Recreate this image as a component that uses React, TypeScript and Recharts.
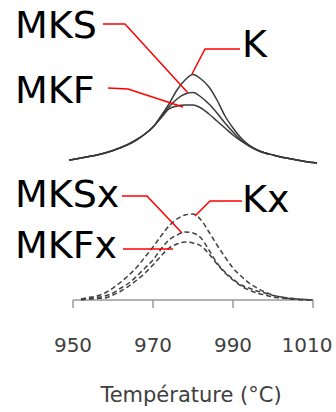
import React from 'react';
import { LineChart, Line, XAxis, YAxis, ReferenceLine } from 'recharts';

// Temperatures (°C) for the solid curves (upper panel)
const topTemps = [
  949, 950, 952, 954, 956, 958, 960, 962, 964, 966, 968, 970, 972, 974, 976, 978, 980,
  982, 984, 986, 988, 990, 992, 994, 996, 998, 1000, 1002, 1004, 1006, 1008, 1010, 1011,
];
const kValues = [
  0.1, 0.105, 0.12, 0.135, 0.15, 0.17, 0.195, 0.225, 0.26, 0.305, 0.36, 0.43, 0.54, 0.66, 0.8, 0.9, 0.955,
  0.91, 0.83, 0.7, 0.54, 0.42, 0.32, 0.25, 0.2, 0.17, 0.15, 0.13, 0.115, 0.1, 0.085, 0.075, 0.07,
];
const mksValues = [
  0.1, 0.105, 0.12, 0.135, 0.15, 0.17, 0.195, 0.225, 0.26, 0.305, 0.36, 0.43, 0.53, 0.63, 0.71, 0.76, 0.775,
  0.73, 0.66, 0.57, 0.47, 0.38, 0.3, 0.245, 0.2, 0.17, 0.15, 0.13, 0.115, 0.1, 0.085, 0.075, 0.07,
];
const mkfValues = [
  0.1, 0.105, 0.12, 0.135, 0.15, 0.17, 0.195, 0.225, 0.26, 0.305, 0.36, 0.43, 0.52, 0.61, 0.64, 0.65, 0.65,
  0.62, 0.56, 0.49, 0.42, 0.35, 0.29, 0.24, 0.2, 0.17, 0.15, 0.13, 0.115, 0.1, 0.085, 0.075, 0.07,
];

// Temperatures (°C) for the dashed curves (lower panel)
const botTemps = [
  952, 954, 956, 958, 960, 962, 964, 966, 968, 970, 972, 974, 976, 978, 980,
  982, 984, 986, 988, 990, 992, 994, 996, 998, 1000, 1002, 1004, 1006, 1008, 1010,
];
const kxValues = [
  0.01, 0.025, 0.04, 0.07, 0.12, 0.18, 0.25, 0.33, 0.43, 0.53, 0.64, 0.74, 0.81, 0.85, 0.86,
  0.8, 0.68, 0.55, 0.43, 0.32, 0.24, 0.17, 0.12, 0.08, 0.05, 0.03, 0.02, 0.01, 0.005, 0,
];
const mksxValues = [
  0.005, 0.015, 0.025, 0.04, 0.07, 0.12, 0.17, 0.24, 0.32, 0.4, 0.51, 0.6, 0.65, 0.68, 0.67,
  0.62, 0.5, 0.37, 0.28, 0.21, 0.15, 0.12, 0.09, 0.07, 0.045, 0.03, 0.015, 0.01, 0.005, 0,
];
const mkfxValues = [
  0, 0.01, 0.015, 0.02, 0.05, 0.09, 0.14, 0.2, 0.27, 0.35, 0.44, 0.52, 0.56, 0.58, 0.57,
  0.54, 0.46, 0.36, 0.27, 0.2, 0.14, 0.1, 0.07, 0.05, 0.03, 0.02, 0.01, 0.005, 0, 0,
];

const xTicks = [950, 970, 990, 1010];

const topRows = topTemps.map((t, i) => ({ t, K: kValues[i], MKS: mksValues[i], MKF: mkfValues[i] }));
const botRows = botTemps.map((t, i) => ({ t, Kx: kxValues[i], MKSx: mksxValues[i], MKFx: mkfxValues[i] }));

const FONT = '"DejaVu Sans", sans-serif';

const TempTick = (props: any) => {
  const { x, y, payload } = props;
  // last label is pushed in so it stays inside the frame
  const dx = payload.value === 1010 ? -6 : 0;
  return (
    <text x={x + dx} y={y + 42} textAnchor="middle" fontSize={20} fontFamily={FONT} fill="#404040">
      {payload.value}
    </text>
  );
};

// callout labels with red leader lines
const callouts = [
  { text: 'MKS', tx: 15, ty: 38, pts: '103,24 125,24 188,93' },
  { text: 'K', tx: 242, ty: 57, pts: '240,49 205,49 192,74' },
  { text: 'MKF', tx: 15, ty: 103, pts: '108,88 128,89 183,107' },
  { text: 'MKSx', tx: 15, ty: 207, pts: '122,196 147,196 182,233' },
  { text: 'Kx', tx: 242, ty: 212, pts: '242,201 210,201 195,216' },
  { text: 'MKFx', tx: 15, ty: 258, pts: '123,249 173,249' },
];

export default function App() {
  return (
    <div style={{ position: 'absolute', left: 0, top: 0, width: 336, height: 412, background: '#fff' }}>
      <LineChart width={336} height={412} margin={{ top: 40, right: 19, bottom: 0, left: 69 }}>
        <XAxis
          type="number"
          dataKey="t"
          domain={[949, 1011]}
          ticks={xTicks}
          axisLine={false}
          tickLine={{ stroke: '#9a9a9a', strokeWidth: 1.5 }}
          tickSize={8}
          tick={<TempTick />}
          height={112}
          label={{
            value: 'Température (°C)',
            position: 'insideBottom',
            offset: 10,
            dx: -2,
            fontSize: 21,
            fontFamily: FONT,
            fill: '#404040',
          }}
        />
        <YAxis yAxisId="top" hide domain={[-1.3, 1.3]} />
        <YAxis yAxisId="bot" hide domain={[0, 2.6]} />
        <ReferenceLine
          yAxisId="bot"
          segment={[{ x: 950, y: 0 }, { x: 1010, y: 0 }]}
          stroke="#9a9a9a"
          strokeWidth={1.5}
        />
        {['K', 'MKS', 'MKF'].map((k) => (
          <Line
            key={k}
            data={topRows}
            yAxisId="top"
            dataKey={k}
            type="monotone"
            stroke="#3a3a3a"
            strokeWidth={1.5}
            dot={false}
            isAnimationActive={false}
          />
        ))}
        {['Kx', 'MKSx', 'MKFx'].map((k) => (
          <Line
            key={k}
            data={botRows}
            yAxisId="bot"
            dataKey={k}
            type="monotone"
            stroke="#404040"
            strokeWidth={1.5}
            strokeDasharray="5 3"
            dot={false}
            isAnimationActive={false}
          />
        ))}
      </LineChart>
      <svg width={336} height={412} style={{ position: 'absolute', left: 0, top: 0, pointerEvents: 'none' }}>
        {callouts.map((c) => (
          <g key={c.text}>
            <polyline points={c.pts} fill="none" stroke="#ff0000" strokeWidth={1.5} />
            <text x={c.tx} y={c.ty} fontSize={38} fontFamily={FONT} fill="#000">
              {c.text}
            </text>
          </g>
        ))}
      </svg>
    </div>
  );
}
